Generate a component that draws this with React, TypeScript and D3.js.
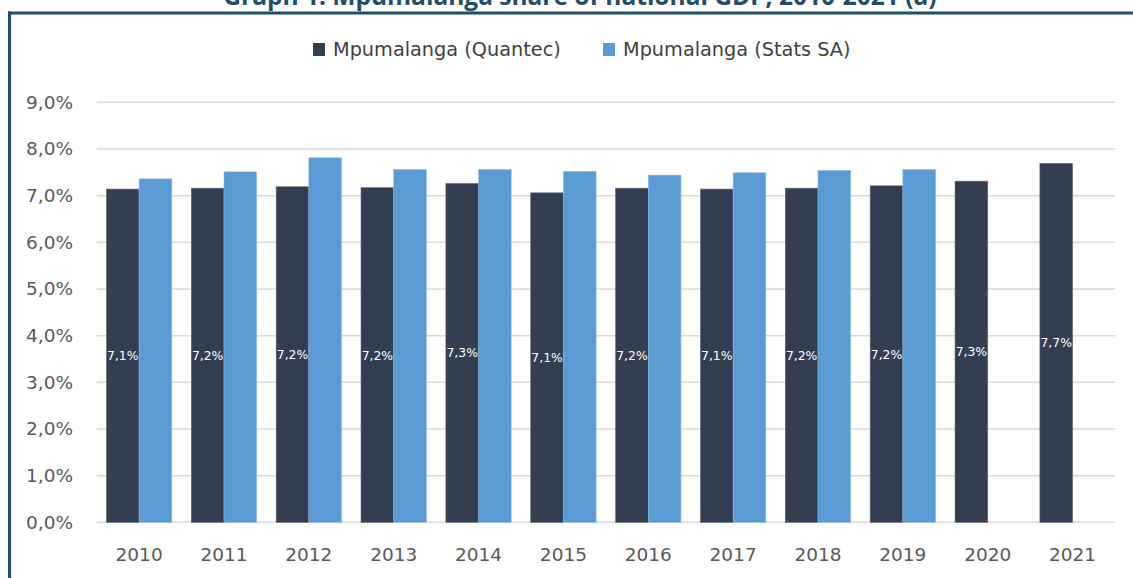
import React from "react";
import * as d3 from "d3";

const years = ["2010", "2011", "2012", "2013", "2014", "2015", "2016", "2017", "2018", "2019", "2020", "2021"];
const quantec = [7.14, 7.16, 7.19, 7.17, 7.26, 7.06, 7.16, 7.14, 7.16, 7.21, 7.31, 7.69];
const statsSA: (number | null)[] = [7.36, 7.51, 7.81, 7.56, 7.56, 7.52, 7.44, 7.49, 7.54, 7.56, null, null];
const yTicks = [0, 1, 2, 3, 4, 5, 6, 7, 8, 9];
const seriesNames = ["Mpumalanga (Quantec)", "Mpumalanga (Stats SA)"];
const title = "Graph 1: Mpumalanga share of national GDP, 2010-2021 (a)";

const W = 1133;
const H = 578;
const left = 96.7;
const right = 1115;
const top = 102.3;
const bottom = 522.3;
const darkColor = "#333F50";
const lightColor = "#5B9BD5";
const axisFont = "'DejaVu Sans', Verdana, sans-serif";
const fmt = (v: number) => v.toFixed(1).replace(".", ",") + "%";

export default function App() {
  const x = d3.scaleBand<string>().domain(years).range([left, right]).paddingInner(0).paddingOuter(0);
  const y = d3.scaleLinear().domain([0, 9]).range([bottom, top]);
  const barW = x.bandwidth() * 0.385;
  const sub = d3.scaleBand<string>().domain(["q", "s"]).range([0, barW * 2]);

  return (
    <svg width={W} height={H} style={{ position: "absolute", left: 0, top: 0, background: "#fff" }}>
      <rect x={0} y={0} width={W} height={H} fill="#fff" />
      <text x={580} y={5} textAnchor="middle" fontFamily="'Open Sans', sans-serif" fontWeight={700} fontSize={24.5} fill="#1F4E69">
        {title}
      </text>
      <line x1={8} x2={W} y1={13} y2={13} stroke="#1F4E69" strokeWidth={3} />
      <line x1={9.5} x2={9.5} y1={11.5} y2={H} stroke="#1F4E69" strokeWidth={3} />

      {/* legend */}
      <rect x={313} y={43} width={12} height={13} fill={darkColor} />
      <text x={333} y={56} fontFamily={axisFont} fontSize={19.3} fill="#404040">{seriesNames[0]}</text>
      <rect x={603} y={43} width={12} height={13} fill={lightColor} />
      <text x={623} y={56} fontFamily={axisFont} fontSize={19.3} fill="#404040">{seriesNames[1]}</text>

      {/* grid */}
      {yTicks.map((t) => (
        <g key={t}>
          <line x1={left} x2={right} y1={y(t)} y2={y(t)} stroke="#D9D9D9" strokeWidth={1.5} />
          <text x={73} y={y(t) + 6.5} textAnchor="end" fontFamily={axisFont} fontSize={18.5} fill="#595959">
            {fmt(t)}
          </text>
        </g>
      ))}

      {/* bars */}
      {years.map((yr, i) => {
        const gx = (x(yr) as number) + x.bandwidth() / 2 - barW;
        const q = quantec[i];
        const s = statsSA[i];
        return (
          <g key={yr}>
            <rect x={gx + (sub("q") as number)} y={y(q)} width={barW} height={bottom - y(q)} fill={darkColor} stroke="#5a6472" strokeWidth={0.6} />
            {s != null && (
              <rect x={gx + (sub("s") as number)} y={y(s)} width={barW} height={bottom - y(s)} fill={lightColor} stroke="#8fbde8" strokeWidth={0.6} />
            )}
            <text
              x={gx + (sub("q") as number) + barW / 2}
              y={(y(q) + bottom) / 2 + 4.5}
              textAnchor="middle"
              fontFamily={axisFont}
              fontSize={12.4}
              fill="#fff"
            >
              {fmt(q)}
            </text>
            <text x={(x(yr) as number) + x.bandwidth() / 2} y={560.5} textAnchor="middle" fontFamily={axisFont} fontSize={18.5} fill="#595959">
              {yr}
            </text>
          </g>
        );
      })}
    </svg>
  );
}
